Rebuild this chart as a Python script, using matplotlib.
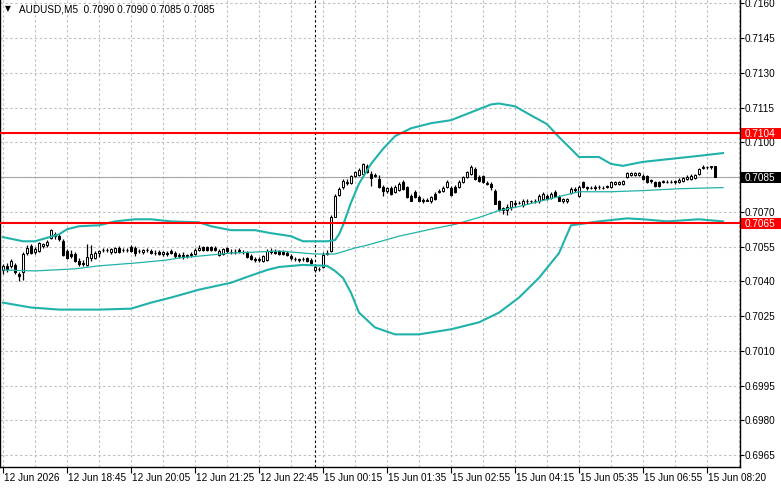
import matplotlib
matplotlib.use('Agg')
import matplotlib.pyplot as plt
from matplotlib import transforms
from matplotlib.patches import Rectangle

# AUDUSD M5 candles, bar 0 = first visible bar
opens = [
    0.70449, 0.70466, 0.70466, 0.70471, 0.70432, 0.70441, 0.70522, 0.70552, 0.70526, 0.70531,
    0.70552, 0.70556, 0.70586, 0.70603, 0.70595, 0.70573, 0.70531, 0.70518, 0.70518, 0.70488,
    0.70479, 0.70471, 0.70501, 0.70501, 0.70522, 0.70535, 0.70535, 0.70526, 0.70526, 0.70543,
    0.70535, 0.70535, 0.70548, 0.70543, 0.70531, 0.70526, 0.70535, 0.70531, 0.70522, 0.70526,
    0.70518, 0.70522, 0.70531, 0.70522, 0.70509, 0.70514, 0.70509, 0.70514, 0.70518, 0.70535,
    0.70548, 0.70548, 0.70548, 0.70543, 0.70514, 0.70518, 0.70543, 0.70526, 0.70526, 0.70531,
    0.70526, 0.70522, 0.70509, 0.70492, 0.70492, 0.70488, 0.70492, 0.70531, 0.70526, 0.70531,
    0.70526, 0.70522, 0.70509, 0.70496, 0.70492, 0.70496, 0.70501, 0.70492, 0.70449, 0.70454,
    0.70462, 0.70518, 0.70531, 0.70680, 0.70775, 0.70809, 0.70830, 0.70826, 0.70856, 0.70860,
    0.70865, 0.70899, 0.70865, 0.70860, 0.70843, 0.70809, 0.70792, 0.70805, 0.70787, 0.70796,
    0.70830, 0.70809, 0.70770, 0.70787, 0.70766, 0.70753, 0.70753, 0.70745, 0.70779, 0.70787,
    0.70792, 0.70809, 0.70805, 0.70809, 0.70809, 0.70830, 0.70852, 0.70865, 0.70886, 0.70852,
    0.70856, 0.70826, 0.70822, 0.70792, 0.70745, 0.70706, 0.70710, 0.70719, 0.70740, 0.70740,
    0.70728, 0.70749, 0.70745, 0.70749, 0.70745, 0.70757, 0.70770, 0.70762, 0.70787, 0.70766,
    0.70745, 0.70745, 0.70783, 0.70800, 0.70770, 0.70830, 0.70809, 0.70805, 0.70805, 0.70809,
    0.70805, 0.70809, 0.70809, 0.70822, 0.70822, 0.70822, 0.70852, 0.70860, 0.70860, 0.70860,
    0.70856, 0.70856, 0.70839, 0.70830, 0.70830, 0.70830, 0.70830, 0.70830, 0.70830, 0.70830,
    0.70835, 0.70843, 0.70843, 0.70847, 0.70865, 0.70890, 0.70894, 0.70894, 0.70900]
highs = [
    0.70475, 0.70479, 0.70496, 0.70479, 0.70441, 0.70526, 0.70556, 0.70561, 0.70548, 0.70569,
    0.70565, 0.70578, 0.70625, 0.70612, 0.70603, 0.70582, 0.70539, 0.70535, 0.70526, 0.70501,
    0.70492, 0.70561, 0.70556, 0.70531, 0.70535, 0.70543, 0.70543, 0.70543, 0.70548, 0.70552,
    0.70543, 0.70543, 0.70556, 0.70552, 0.70539, 0.70539, 0.70543, 0.70539, 0.70535, 0.70535,
    0.70531, 0.70531, 0.70539, 0.70531, 0.70522, 0.70526, 0.70518, 0.70526, 0.70543, 0.70556,
    0.70552, 0.70552, 0.70552, 0.70552, 0.70539, 0.70543, 0.70548, 0.70539, 0.70539, 0.70543,
    0.70535, 0.70531, 0.70518, 0.70505, 0.70505, 0.70514, 0.70539, 0.70543, 0.70539, 0.70535,
    0.70535, 0.70531, 0.70518, 0.70505, 0.70501, 0.70505, 0.70505, 0.70501, 0.70475, 0.70462,
    0.70526, 0.70535, 0.70685, 0.70779, 0.70809, 0.70843, 0.70843, 0.70860, 0.70877, 0.70890,
    0.70912, 0.70907, 0.70877, 0.70869, 0.70860, 0.70817, 0.70809, 0.70813, 0.70817, 0.70830,
    0.70839, 0.70813, 0.70779, 0.70796, 0.70775, 0.70762, 0.70762, 0.70770, 0.70787, 0.70800,
    0.70813, 0.70839, 0.70813, 0.70817, 0.70839, 0.70856, 0.70877, 0.70903, 0.70894, 0.70860,
    0.70860, 0.70835, 0.70830, 0.70800, 0.70753, 0.70723, 0.70736, 0.70749, 0.70753, 0.70749,
    0.70757, 0.70757, 0.70753, 0.70757, 0.70779, 0.70787, 0.70779, 0.70787, 0.70796, 0.70775,
    0.70762, 0.70762, 0.70809, 0.70809, 0.70817, 0.70835, 0.70813, 0.70813, 0.70817, 0.70817,
    0.70813, 0.70817, 0.70835, 0.70835, 0.70835, 0.70839, 0.70873, 0.70873, 0.70873, 0.70873,
    0.70865, 0.70860, 0.70843, 0.70835, 0.70835, 0.70839, 0.70839, 0.70839, 0.70839, 0.70847,
    0.70852, 0.70860, 0.70865, 0.70865, 0.70890, 0.70903, 0.70899, 0.70899, 0.70900]
lows = [
    0.70432, 0.70441, 0.70458, 0.70432, 0.70402, 0.70406, 0.70514, 0.70518, 0.70518, 0.70526,
    0.70543, 0.70548, 0.70582, 0.70582, 0.70573, 0.70509, 0.70496, 0.70501, 0.70484, 0.70466,
    0.70466, 0.70466, 0.70488, 0.70496, 0.70505, 0.70526, 0.70526, 0.70518, 0.70522, 0.70522,
    0.70526, 0.70526, 0.70526, 0.70509, 0.70522, 0.70518, 0.70526, 0.70518, 0.70514, 0.70514,
    0.70509, 0.70509, 0.70518, 0.70501, 0.70501, 0.70496, 0.70501, 0.70505, 0.70514, 0.70531,
    0.70531, 0.70531, 0.70531, 0.70531, 0.70509, 0.70514, 0.70522, 0.70518, 0.70518, 0.70522,
    0.70518, 0.70501, 0.70492, 0.70484, 0.70484, 0.70484, 0.70488, 0.70518, 0.70518, 0.70514,
    0.70514, 0.70509, 0.70492, 0.70488, 0.70484, 0.70488, 0.70484, 0.70471, 0.70441, 0.70445,
    0.70458, 0.70514, 0.70526, 0.70676, 0.70770, 0.70800, 0.70817, 0.70822, 0.70852, 0.70856,
    0.70860, 0.70869, 0.70813, 0.70852, 0.70805, 0.70770, 0.70783, 0.70775, 0.70783, 0.70792,
    0.70796, 0.70762, 0.70745, 0.70762, 0.70745, 0.70740, 0.70745, 0.70740, 0.70753, 0.70783,
    0.70787, 0.70805, 0.70770, 0.70783, 0.70805, 0.70826, 0.70847, 0.70860, 0.70839, 0.70830,
    0.70826, 0.70817, 0.70796, 0.70732, 0.70702, 0.70693, 0.70685, 0.70710, 0.70723, 0.70732,
    0.70723, 0.70736, 0.70740, 0.70740, 0.70740, 0.70753, 0.70753, 0.70757, 0.70766, 0.70745,
    0.70740, 0.70740, 0.70779, 0.70787, 0.70766, 0.70805, 0.70796, 0.70800, 0.70796, 0.70800,
    0.70800, 0.70805, 0.70805, 0.70817, 0.70817, 0.70817, 0.70847, 0.70856, 0.70856, 0.70856,
    0.70839, 0.70826, 0.70826, 0.70809, 0.70809, 0.70826, 0.70826, 0.70826, 0.70822, 0.70826,
    0.70830, 0.70839, 0.70839, 0.70843, 0.70860, 0.70886, 0.70886, 0.70886, 0.70850]
closes = [
    0.70466, 0.70454, 0.70488, 0.70441, 0.70424, 0.70518, 0.70543, 0.70522, 0.70539, 0.70565,
    0.70561, 0.70569, 0.70621, 0.70595, 0.70582, 0.70514, 0.70501, 0.70509, 0.70488, 0.70475,
    0.70475, 0.70505, 0.70518, 0.70522, 0.70531, 0.70535, 0.70535, 0.70539, 0.70543, 0.70526,
    0.70535, 0.70535, 0.70531, 0.70522, 0.70531, 0.70535, 0.70535, 0.70522, 0.70522, 0.70518,
    0.70526, 0.70518, 0.70522, 0.70509, 0.70514, 0.70509, 0.70514, 0.70518, 0.70535, 0.70543,
    0.70535, 0.70535, 0.70535, 0.70535, 0.70531, 0.70539, 0.70531, 0.70526, 0.70526, 0.70535,
    0.70526, 0.70505, 0.70496, 0.70496, 0.70496, 0.70509, 0.70531, 0.70526, 0.70522, 0.70518,
    0.70518, 0.70514, 0.70501, 0.70496, 0.70496, 0.70496, 0.70488, 0.70479, 0.70462, 0.70454,
    0.70514, 0.70522, 0.70676, 0.70770, 0.70800, 0.70835, 0.70826, 0.70856, 0.70873, 0.70882,
    0.70907, 0.70873, 0.70847, 0.70856, 0.70809, 0.70792, 0.70805, 0.70779, 0.70809, 0.70822,
    0.70800, 0.70766, 0.70749, 0.70766, 0.70749, 0.70749, 0.70749, 0.70766, 0.70757, 0.70792,
    0.70805, 0.70830, 0.70775, 0.70787, 0.70830, 0.70852, 0.70873, 0.70894, 0.70843, 0.70835,
    0.70830, 0.70822, 0.70809, 0.70736, 0.70706, 0.70715, 0.70723, 0.70745, 0.70736, 0.70740,
    0.70749, 0.70745, 0.70749, 0.70745, 0.70770, 0.70779, 0.70757, 0.70779, 0.70770, 0.70749,
    0.70757, 0.70757, 0.70800, 0.70796, 0.70809, 0.70809, 0.70805, 0.70805, 0.70809, 0.70809,
    0.70805, 0.70813, 0.70830, 0.70830, 0.70830, 0.70835, 0.70869, 0.70869, 0.70869, 0.70869,
    0.70843, 0.70830, 0.70835, 0.70813, 0.70813, 0.70835, 0.70830, 0.70830, 0.70835, 0.70839,
    0.70847, 0.70852, 0.70856, 0.70860, 0.70886, 0.70894, 0.70894, 0.70899, 0.70850]

# Bollinger bands (read at the bend points)
upper_bars = [0, 5, 8, 14, 16, 19, 24, 28, 33, 37, 42, 49, 52, 57, 63, 67, 72, 75, 81, 83,
              84, 85, 87, 89, 92, 95, 98, 102, 107, 112, 117, 122, 124, 128, 132, 136, 139,
              142, 144, 149, 152, 155, 160, 167, 174, 180]
upper_vals = [0.70591, 0.70573, 0.70573, 0.70603, 0.70625, 0.70638, 0.70642, 0.70659, 0.70668,
              0.70668, 0.70659, 0.70655, 0.70638, 0.70621, 0.70621, 0.70608, 0.70595, 0.70573,
              0.70573, 0.70578, 0.70603, 0.70642, 0.70740, 0.70822, 0.70907, 0.70972, 0.71027,
              0.71061, 0.71083, 0.71096, 0.71130, 0.71164, 0.71168, 0.71156, 0.71117, 0.71079,
              0.71023, 0.70972, 0.70937, 0.70937, 0.70907, 0.70899, 0.70916, 0.70929, 0.70942,
              0.70954]
middle_bars = [0, 8, 18, 24, 33, 41, 44, 57, 69, 78, 83, 88, 91, 99, 108, 113, 119, 124, 129,
               134, 144, 152, 160, 169, 180]
middle_vals = [0.70449, 0.70445, 0.70454, 0.70467, 0.70479, 0.70492, 0.70501, 0.70522, 0.70531,
               0.70518, 0.70518, 0.70544, 0.70556, 0.70595, 0.70629, 0.70646, 0.70676, 0.70706,
               0.70723, 0.70745, 0.70787, 0.70787, 0.70792, 0.70800, 0.70805]
lower_bars = [0, 7, 14, 24, 32, 37, 42, 49, 57, 61, 66, 69, 75, 81, 83, 85, 87, 89, 93, 98,
              104, 112, 119, 124, 129, 134, 139, 142, 149, 156, 160, 166, 174, 180]
lower_vals = [0.70308, 0.70287, 0.70278, 0.70278, 0.70282, 0.70308, 0.70330, 0.70364, 0.70394,
              0.70419, 0.70449, 0.70462, 0.70471, 0.70467, 0.70445, 0.70415, 0.70351, 0.70265,
              0.70201, 0.70171, 0.70171, 0.70193, 0.70223, 0.70265, 0.70330, 0.70415, 0.70522,
              0.70642, 0.70659, 0.70672, 0.70668, 0.70659, 0.70668, 0.70659]

resistance = 0.7104
support = 0.7065
last_price = 0.7085
price_ticks = [0.6965, 0.6980, 0.6995, 0.7010, 0.7025, 0.7040, 0.7055, 0.7070, 0.7085,
               0.7100, 0.7115, 0.7130, 0.7145, 0.7160]
time_bars = [0, 16, 32, 48, 64, 80, 96, 112, 128, 144, 160, 176]
time_labels = ['12 Jun 2026', '12 Jun 18:45', '12 Jun 20:05', '12 Jun 21:25', '12 Jun 22:45',
               '15 Jun 00:15', '15 Jun 01:35', '15 Jun 02:55', '15 Jun 04:15', '15 Jun 05:35',
               '15 Jun 06:55', '15 Jun 08:20']
grid_bars = list(range(0, 185, 8))
day_break = 78
title = 'AUDUSD,M5  0.7090 0.7090 0.7085 0.7085'

plt.rcParams['font.family'] = ['Liberation Sans', 'DejaVu Sans']
FS = 7.2
BAND = '#20b2aa'
Y0, Y1 = 0.695982, 0.716194

W, H = 781, 489
fig = plt.figure(figsize=(W / 100, H / 100), dpi=100)
fig.patch.set_facecolor('white')
ax = fig.add_axes([0, 21 / H, 740 / W, 468 / H])
ax.set_xlim(-0.75, 184.25)
ax.set_ylim(Y0, Y1)

# grid
ax.hlines(price_ticks, -0.75, 184.25, colors='#c0c0c0', linewidth=0.8,
          linestyles=(0, (2.2, 2.2)), zorder=0)
ax.vlines(grid_bars, Y0, Y1, colors='#c0c0c0', linewidth=0.8,
          linestyles=(0, (2.2, 2.2)), zorder=0)
ax.axvline(day_break, color='black', linewidth=0.8, linestyle=(0, (2.2, 2.2)), zorder=1)
ax.axhline(last_price, color='#a8a8a8', linewidth=0.8, zorder=1)

# candles
x = list(range(len(closes)))
ax.vlines(x, lows, highs, colors='black', linewidth=0.9, zorder=2)
bottoms = [min(o, c) for o, c in zip(opens, closes)]
heights = [abs(c - o) for o, c in zip(opens, closes)]
colors = ['white' if c >= o else 'black' for o, c in zip(opens, closes)]
ax.bar(x, heights, bottom=bottoms, width=0.72, color=colors, edgecolor='black',
       linewidth=0.75, zorder=3)

# bands
ax.plot(upper_bars, upper_vals, color=BAND, linewidth=1.5, zorder=4)
ax.plot(lower_bars, lower_vals, color=BAND, linewidth=1.5, zorder=4)
ax.plot(middle_bars, middle_vals, color=BAND, linewidth=0.9, zorder=4)

# horizontal levels
ax.axhline(resistance, color='#ff0000', linewidth=1.5, zorder=5)
ax.axhline(support, color='#ff0000', linewidth=1.5, zorder=5)

# axes frame and ticks
for s in ['left', 'right', 'bottom']:
    ax.spines[s].set_color('black')
    ax.spines[s].set_linewidth(1.0)
ax.spines['top'].set_visible(False)
ax.yaxis.tick_right()
ax.set_yticks(price_ticks)
ax.set_xticks(time_bars)
ax.tick_params(axis='y', direction='out', length=3, width=0.8, labelright=False)
ax.tick_params(axis='x', direction='out', length=4, width=0.8, labelbottom=False)

ytr = transforms.blended_transform_factory(ax.transAxes, ax.transData)
for p in price_ticks:
    if p == last_price:
        continue  # hidden behind the current price box
    ax.text(1.0, p, f'{p:.4f}', fontsize=FS, ha='left', va='center', clip_on=False,
            transform=transforms.offset_copy(ytr, fig=fig, x=5, y=0, units='dots'))

xtr = transforms.blended_transform_factory(ax.transData, ax.transAxes)
for b, lab in zip(time_bars, time_labels):
    ax.text(b, 0, lab, fontsize=FS, ha='left', va='center', clip_on=False,
            transform=transforms.offset_copy(xtr, fig=fig, x=1, y=-10, units='dots'))

# price boxes on the scale
ftr = transforms.blended_transform_factory(fig.transFigure, ax.transData)
half = 5.5 / (468 / (Y1 - Y0))
for p, bg in [(resistance, '#ff0000'), (support, '#ff0000'), (last_price, 'black')]:
    fig.add_artist(Rectangle((741 / W, p - half), 40 / W, 2 * half, transform=ftr,
                             facecolor=bg, edgecolor='none', zorder=10))
    fig.text(745 / W, p, f'{p:.4f}', transform=ftr, fontsize=FS, color='white',
             ha='left', va='center', zorder=11)

# title
ttr = ax.transAxes
ax.text(0, 1, '\u25bc', fontsize=5.5, ha='left', va='center', family='DejaVu Sans',
        transform=transforms.offset_copy(ttr, fig=fig, x=5, y=-9, units='dots'))
ax.text(0, 1, title, fontsize=FS, ha='left', va='center',
        transform=transforms.offset_copy(ttr, fig=fig, x=19, y=-9, units='dots'))

fig.savefig('out.png', dpi=100)
